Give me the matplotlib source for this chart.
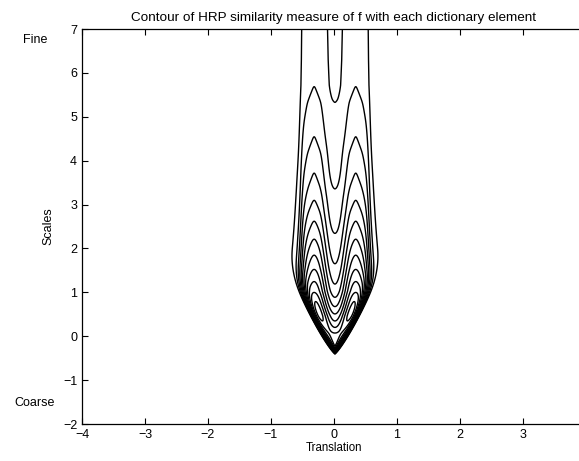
import numpy as np
import matplotlib
matplotlib.use("Agg")
import matplotlib.pyplot as plt

plt.rcParams['font.family'] = ['Liberation Sans', 'DejaVu Sans']

# ---- data ----
title = "Contour of HRP similarity measure of f with each dictionary element"
x_label = "Translation"
y_label = "Scales"
x_ticks = [-4, -3, -2, -1, 0, 1, 2, 3]
y_ticks = [-2, -1, 0, 1, 2, 3, 4, 5, 6, 7]
fine_label = "Fine"
coarse_label = "Coarse"

# scale at which the contour of each level crosses the centre (x = 0)
valley_scales = [7.0, 6.3, 5.72, 5.31, 3.33, 2.30, 1.56, 1.03, 0.71, 0.46, 0.19, -0.04]
valley_levels = [0.75, 0.79, 0.86, 1, 2, 3, 4, 5, 6, 7, 8, 9]

# horizontal profile of the measure at the finest scale (relative)
profile_x = [0.0, 0.05, 0.09, 0.115, 0.16, 0.22, 0.33, 0.44, 0.50, 0.53, 0.57, 0.65, 0.80, 1.00, 2.0]
profile_v = [0.43, 0.445, 0.49, 0.57, 0.67, 0.86, 1.0, 0.86, 0.72, 0.57, 0.30, 0.14, 0.04, 0.0, 0.0]

# cone of influence (coarse scales): apex, width factor, curvature
cone_apex = -0.41
cone_width = 0.44
cone_power = 0.82
cone_soft = 0.26
centre = 0.015
blur_coef = 0.13
contour_levels = np.arange(1, 60)

# ---- build the field ----
x = np.linspace(-2.0, 2.0, 1001)
s = np.linspace(-2.0, 7.0, 451)
dx = x[1] - x[0]

prof = np.interp(np.abs(x - centre), profile_x, profile_v)

ls = np.log(valley_levels)[::-1]
vs = np.array(valley_scales)[::-1]
slope_lo = (ls[1] - ls[0]) / (vs[1] - vs[0])
logL = np.interp(s, vs, ls)
lo = s < vs[0]
logL[lo] = ls[0] + slope_lo * (s[lo] - vs[0])
L = np.exp(logL)

Z = np.zeros((s.size, x.size))
for i, si in enumerate(s):
    sig = np.sqrt((blur_coef * 2.0 ** (-si)) ** 2 + 0.012 ** 2)
    n = int(min(4 * sig / dx, 450))
    k = np.exp(-0.5 * ((np.arange(-n, n + 1) * dx) / sig) ** 2)
    k /= k.sum()
    row = np.convolve(prof, k, mode='same')
    Z[i] = L[i] / profile_v[0] * row

X, S = np.meshgrid(x, s)
e = cone_width * np.clip(S - cone_apex, 0, None) ** cone_power - np.abs(X - centre)
t = np.clip(e / cone_soft, 0, 1)
C = 1 - (1 - t) ** 3
Z = Z * C

# ---- draw ----
fig = plt.figure(figsize=(5.79, 4.61), dpi=100)
ax = fig.add_axes([82 / 579, 37 / 461, (586 - 82) / 579, (424 - 29) / 461])
ax.contour(X, S, Z, levels=contour_levels, colors='black', linewidths=1.0)

ax.set_xlim(-4, 4)
ax.set_ylim(-2, 7)
ax.set_xticks(x_ticks)
ax.set_yticks(y_ticks)
ax.tick_params(direction='in', top=True, right=True, length=4, labelsize=9, width=0.8)
for sp in ax.spines.values():
    sp.set_linewidth(0.9)
ax.set_title(title, fontsize=9.7, pad=6)
ax.set_xlabel(x_label, fontsize=8.3, labelpad=1)
ax.set_ylabel(y_label, fontsize=9, labelpad=6)

fig.text(35 / 579, 1 - 40 / 461, fine_label, fontsize=9, ha='center', va='center')
fig.text(35 / 579, 1 - 403 / 461, coarse_label, fontsize=9, ha='center', va='center')

fig.savefig("out.png", dpi=100)
